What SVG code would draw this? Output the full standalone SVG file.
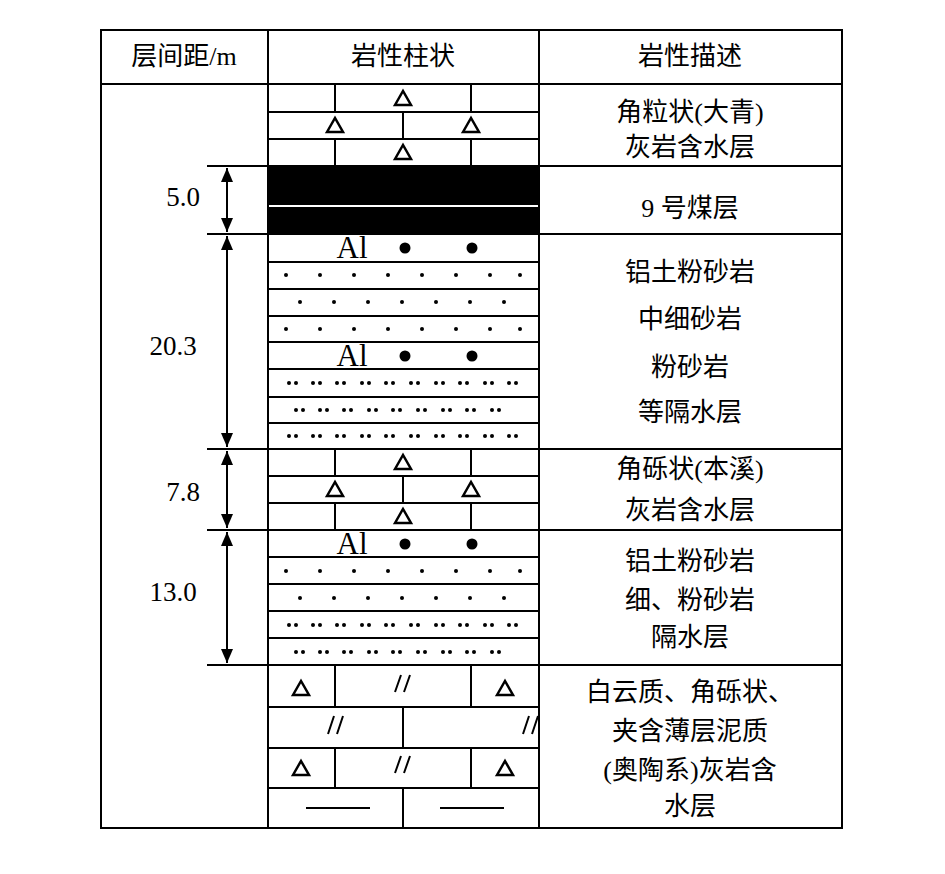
<svg xmlns="http://www.w3.org/2000/svg" xmlns:xlink="http://www.w3.org/1999/xlink" width="945" height="874" viewBox="0 0 945 874">
<style>
.l{stroke:#000;stroke-width:2;fill:none}
.t{font-family:"Liberation Serif","Noto Sans CJK SC",serif;font-size:26px;text-anchor:middle;fill:#000}
.n{font-family:"Liberation Serif",serif;font-size:27px;text-anchor:middle}
</style>
<defs>
<path id="tri" d="M-8,7 L0,-7 L8,7 Z" fill="none" stroke="#000" stroke-width="2.5"/>
<marker id="ah" viewBox="0 0 14 12" refX="14" refY="6" markerWidth="14" markerHeight="12" orient="auto-start-reverse" markerUnits="userSpaceOnUse"><path d="M0,0 L14,6 L0,12 Z"/></marker>
<g id="lime">
<path class="l" d="M335,0v27M471,0v27M403,27v27M335,54v27M471,54v27M268,27h270M268,54h270"/>
<use xlink:href="#tri" x="403" y="13"/><use xlink:href="#tri" x="335" y="40"/><use xlink:href="#tri" x="471" y="40"/><use xlink:href="#tri" x="403" y="67"/>
</g>
<g id="al"><text x="352" y="24" font-family="Liberation Serif,serif" font-size="31" text-anchor="middle">Al</text><circle cx="405" cy="14" r="5.5"/><circle cx="472" cy="14" r="5.5"/></g>
<g id="d1" fill="#000"><circle cx="286" r="2"/><circle cx="320" r="2"/><circle cx="354" r="2"/><circle cx="388" r="2"/><circle cx="422" r="2"/><circle cx="456" r="2"/><circle cx="490" r="2"/><circle cx="520" r="2"/></g>
<g id="d1b" fill="#000"><circle cx="300" r="2"/><circle cx="334" r="2"/><circle cx="368" r="2"/><circle cx="402" r="2"/><circle cx="436" r="2"/><circle cx="470" r="2"/><circle cx="504" r="2"/></g>
<g id="d2" fill="#000"><circle cx="289" r="2"/><circle cx="296" r="2"/><circle cx="313" r="2"/><circle cx="320" r="2"/><circle cx="337" r="2"/><circle cx="344" r="2"/><circle cx="362" r="2"/><circle cx="369" r="2"/><circle cx="386" r="2"/><circle cx="393" r="2"/><circle cx="411" r="2"/><circle cx="418" r="2"/><circle cx="436" r="2"/><circle cx="443" r="2"/><circle cx="460" r="2"/><circle cx="467" r="2"/><circle cx="485" r="2"/><circle cx="492" r="2"/><circle cx="509" r="2"/><circle cx="516" r="2"/></g>
<g id="d2b" fill="#000"><circle cx="296" r="2"/><circle cx="303" r="2"/><circle cx="320" r="2"/><circle cx="327" r="2"/><circle cx="344" r="2"/><circle cx="351" r="2"/><circle cx="369" r="2"/><circle cx="376" r="2"/><circle cx="393" r="2"/><circle cx="400" r="2"/><circle cx="418" r="2"/><circle cx="425" r="2"/><circle cx="443" r="2"/><circle cx="450" r="2"/><circle cx="467" r="2"/><circle cx="474" r="2"/><circle cx="492" r="2"/><circle cx="499" r="2"/></g>
</defs>
<rect width="945" height="874" fill="#fff"/>
<g id="frame">
<rect x="101" y="30" width="741" height="798" class="l"/>
<path class="l" d="M268,30V828M539,30V828M101,84H842M207,166H842M207,234H842M207,449H842M207,530H842M207,665H842"/>
<text class="t" x="184" y="65">层间距/m</text>
<text class="t" x="403" y="65">岩性柱状</text>
<text class="t" x="690" y="65">岩性描述</text>
</g>
<g id="col">
<use xlink:href="#lime" y="85"/>
<rect x="268" y="166" width="270" height="39"/><rect x="268" y="207" width="270" height="27"/>
<path class="l" d="M268,262h270M268,289h270M268,316h270M268,342h270M268,369h270M268,397h270M268,423h270"/>
<use xlink:href="#al" y="234"/>
<use xlink:href="#d1" y="275"/><use xlink:href="#d1b" y="302"/><use xlink:href="#d1" y="329"/>
<use xlink:href="#al" y="342"/>
<use xlink:href="#d2" y="383"/><use xlink:href="#d2b" y="410"/><use xlink:href="#d2" y="436"/>
<use xlink:href="#lime" y="449"/>
<path class="l" d="M268,557h270M268,584h270M268,611h270M268,638h270"/>
<use xlink:href="#al" y="530"/>
<use xlink:href="#d1" y="571"/><use xlink:href="#d1b" y="598"/>
<use xlink:href="#d2" y="625"/><use xlink:href="#d2b" y="652"/>
<path class="l" d="M268,707h270M268,748h270M268,788h270M335,665v42M471,665v42M403,707v41M335,748v40M471,748v40M403,788v40"/>
<use xlink:href="#tri" x="301" y="688"/><use xlink:href="#tri" x="505" y="688"/>
<use xlink:href="#tri" x="301" y="768"/><use xlink:href="#tri" x="505" y="768"/>
<path class="l" stroke-width="2.5" d="M395,692l6,-17M404,692l6,-17M328,734l6,-18M337,734l6,-18M523,734l6,-18M532,734l6,-18M395,773l6,-17M404,773l6,-17M306,808h64M440,808h64"/>
</g>
<g id="connectors" stroke="#000" stroke-width="2">
<line x1="227" y1="168" x2="227" y2="232" marker-start="url(#ah)" marker-end="url(#ah)"/>
<line x1="227" y1="236" x2="227" y2="447" marker-start="url(#ah)" marker-end="url(#ah)"/>
<line x1="227" y1="451" x2="227" y2="528" marker-start="url(#ah)" marker-end="url(#ah)"/>
<line x1="227" y1="532" x2="227" y2="663" marker-start="url(#ah)" marker-end="url(#ah)"/>
</g>
<g id="labels">
<text class="n" x="183" y="206">5.0</text>
<text class="n" x="173" y="355">20.3</text>
<text class="n" x="183" y="501">7.8</text>
<text class="n" x="173" y="601">13.0</text>
<text class="t" x="690" y="121">角粒状(大青)</text>
<text class="t" x="690" y="156">灰岩含水层</text>
<text class="t" x="690" y="217">9 号煤层</text>
<text class="t" x="690" y="281">铝土粉砂岩</text>
<text class="t" x="690" y="328">中细砂岩</text>
<text class="t" x="690" y="376">粉砂岩</text>
<text class="t" x="690" y="421">等隔水层</text>
<text class="t" x="690" y="478">角砾状(本溪)</text>
<text class="t" x="690" y="519">灰岩含水层</text>
<text class="t" x="690" y="570">铝土粉砂岩</text>
<text class="t" x="690" y="609">细、粉砂岩</text>
<text class="t" x="690" y="646">隔水层</text>
<text class="t" x="690" y="701">白云质、角砾状、</text>
<text class="t" x="690" y="740">夹含薄层泥质</text>
<text class="t" x="690" y="779">(奥陶系)灰岩含</text>
<text class="t" x="690" y="815">水层</text>
</g>
</svg>
